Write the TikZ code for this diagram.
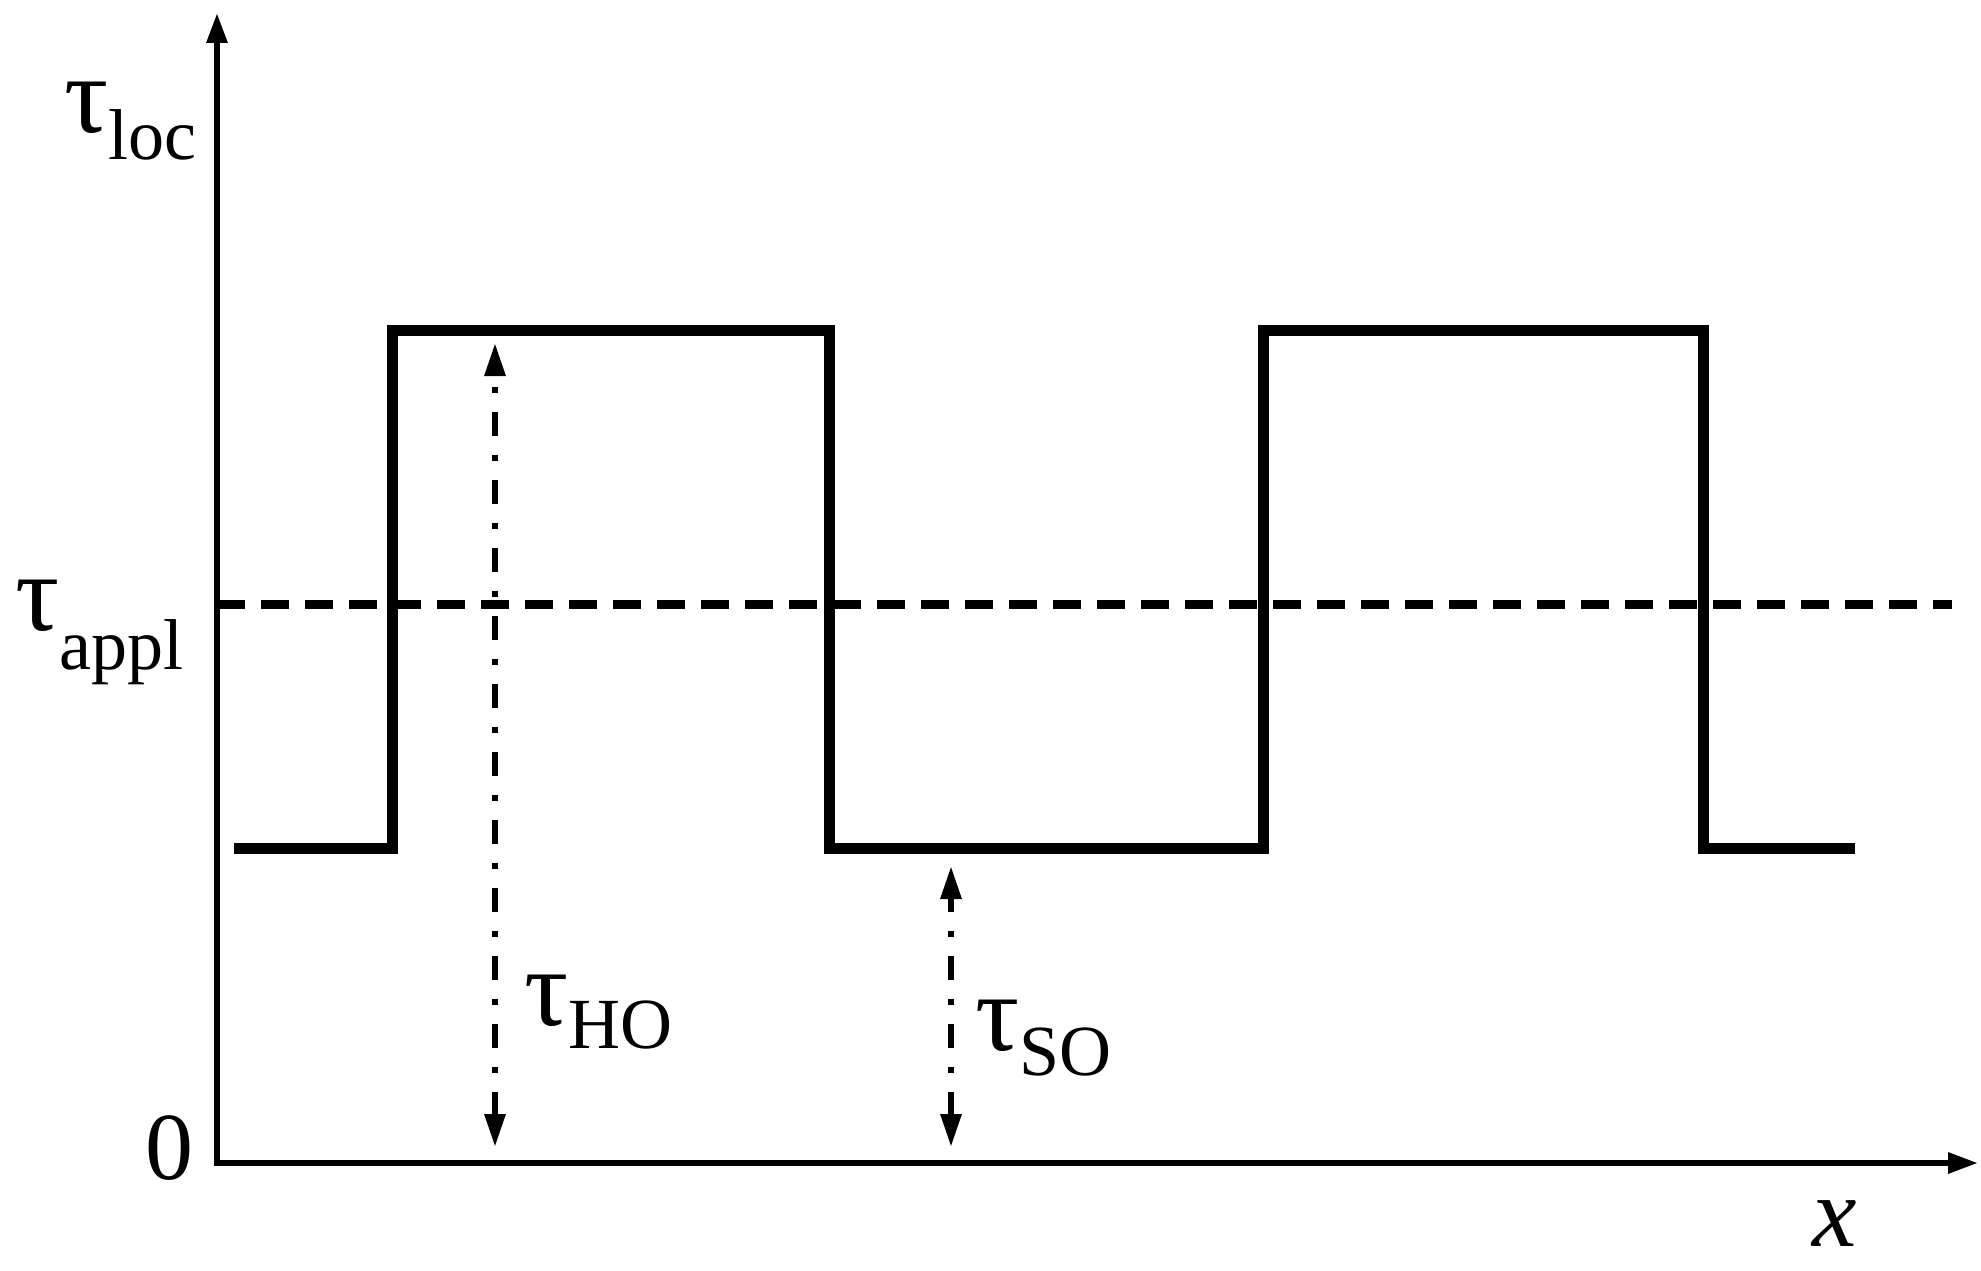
\documentclass[tikz,border=0pt]{standalone}
\usepackage{fontspec}
\setmainfont{Liberation Serif}
\usetikzlibrary{arrows.meta}
\newcommand{\taulab}[2]{{\fontsize{110}{120}\selectfont τ}{\fontsize{72}{80}\selectfont\raisebox{-#1pt}{#2}}}
\tikzset{
  axisline/.style={line width=6pt, -{Triangle[length=30pt,width=20pt]}},
  wave/.style={line width=11pt, line join=miter, line cap=butt},
  applline/.style={line width=9pt, dash pattern=on 28pt off 16pt},
  dimarrow/.style={line width=6pt, dash pattern=on 24pt off 19pt on 6pt off 19pt,
    {Triangle[length=33pt,width=20pt]}-{Triangle[length=33pt,width=20pt]}},
  lab/.style={inner sep=0pt, anchor=base west},
}
\begin{document}
\begin{tikzpicture}[x=1pt,y=-1pt]
\useasboundingbox (0,0) rectangle (1981,1271);
% axes
\coordinate (O) at (217,1163);
\coordinate (ytop) at (217,13);
\coordinate (xend) at (1978,1163);
\draw[axisline] (O) -- (ytop);
\draw[axisline] ([xshift=-3pt]O) -- (xend);
% applied stress level
\coordinate (a1) at (217,604);
\coordinate (a2) at (1952,604);
\draw[applline] (a1) -- (a2);
% local stress square wave
\coordinate (w0) at (234,848);
\coordinate (w1) at (392,848);
\coordinate (w2) at (392,330);
\coordinate (w3) at (829,330);
\coordinate (w4) at (829,848);
\coordinate (w5) at (1263,848);
\coordinate (w6) at (1263,330);
\coordinate (w7) at (1703,330);
\coordinate (w8) at (1703,848);
\coordinate (w9) at (1855,848);
\draw[wave] (w0) -- (w1) -- (w2) -- (w3) -- (w4) -- (w5) -- (w6) -- (w7) -- (w8) -- (w9);
% dimension arrows
\coordinate (ho1) at (495,1147);
\coordinate (ho2) at (495,343);
\coordinate (so1) at (951,1147);
\coordinate (so2) at (951,866);
\draw[dimarrow] (ho1) -- (ho2);
\draw[dimarrow] (so1) -- (so2);
% labels
\node[lab] (tloc) at (64,133) {\taulab{27}{loc}};
\node[lab] (tappl) at (15,630) {\taulab{39}{appl}};
\node[lab] (tho) at (524,1025) {\taulab{23}{HO}};
\node[lab] (tso) at (975,1050) {\taulab{25}{SO}};
\node[inner sep=0pt] (zero) at (169,1148) {\fontsize{96}{100}\selectfont 0};
\node[inner sep=0pt, anchor=base] (xlab) at (1835,1246) {\fontsize{100}{110}\selectfont\itshape x};
\end{tikzpicture}
\end{document}
